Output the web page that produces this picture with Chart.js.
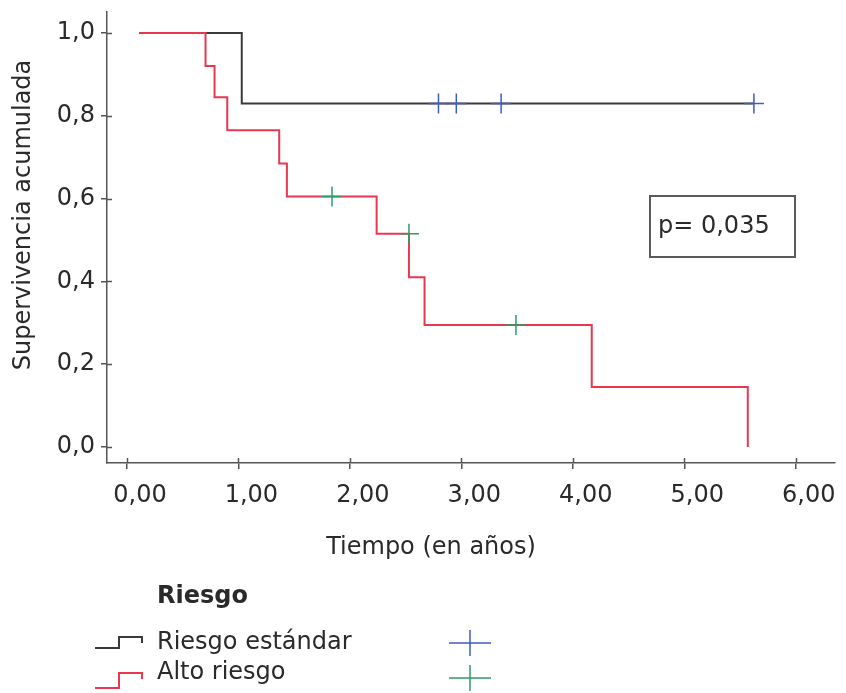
<!DOCTYPE html>
<html><head><meta charset="utf-8">
<script src="https://cdn.jsdelivr.net/npm/chart.js@4/dist/chart.umd.min.js"></script>
<style>html,body{margin:0;padding:0;background:#fff}</style>
</head><body>
<canvas id="c" width="846" height="693"></canvas>
<script>
// ---- data ----
const xTicks = [0, 1, 2, 3, 4, 5, 6];
const yTicks = [0, 0.2, 0.4, 0.6, 0.8, 1.0];
const standardTimes = [0.11, 1.03, 5.625];
const standardSurv  = [1.0, 0.83, 0.83];
const highTimes = [0.11, 0.705, 0.786, 0.90, 1.366, 1.435, 2.24, 2.53, 2.67, 4.17, 5.57];
const highSurv  = [1.0, 0.92, 0.845, 0.765, 0.685, 0.605, 0.515, 0.41, 0.295, 0.145, 0.0];
const standardCensorTimes = [2.795, 2.955, 3.357, 5.625];
const standardCensorSurv  = [0.83, 0.83, 0.83, 0.83];
const highCensorTimes = [1.84, 2.53, 3.49];
const highCensorSurv  = [0.605, 0.515, 0.295];
const groups = ['Riesgo estándar', 'Alto riesgo'];
const legendTitle = 'Riesgo';
const xTitle = 'Tiempo (en años)';
const yTitle = 'Supervivencia acumulada';
const pText = 'p= 0,035';

const FONT = 'DejaVu Sans';
const TXT = '#2a2a2a';
const AXIS = '#555555';
const BLACK = '#3a3a3a';
const RED = '#e8374f';
const BLUE = '#3d5cc4';
const GREEN = '#2e9c68';

const toPts = (xs, ys) => xs.map((x, i) => ({x: x, y: ys[i]}));

Chart.defaults.font.family = FONT;
Chart.defaults.color = TXT;

const extras = {
  id: 'extras',
  afterDraw(chart) {
    const ctx = chart.ctx;
    const xs = chart.scales.x, ys = chart.scales.y;
    ctx.save();
    // inner tick parts (ticks cross the axes)
    ctx.strokeStyle = AXIS; ctx.lineWidth = 1.5;
    yTicks.forEach(v => {
      const py = Math.round(ys.getPixelForValue(v)) + 0.5;
      ctx.beginPath(); ctx.moveTo(xs.left, py); ctx.lineTo(xs.left + 5, py); ctx.stroke();
    });
    xTicks.forEach(v => {
      const px = Math.round(xs.getPixelForValue(v)) + 0.5;
      ctx.beginPath(); ctx.moveTo(px, ys.bottom); ctx.lineTo(px, ys.bottom - 5); ctx.stroke();
    });
    // axis titles
    ctx.fillStyle = TXT;
    ctx.font = '24px "' + FONT + '"';
    ctx.textAlign = 'center'; ctx.textBaseline = 'middle';
    ctx.fillText(xTitle, 431, 548);
    ctx.save();
    ctx.translate(24, 215); ctx.rotate(-Math.PI / 2);
    ctx.fillText(yTitle, 0, 0);
    ctx.restore();
    // p-value box
    ctx.strokeStyle = '#5a5a5a'; ctx.lineWidth = 2;
    ctx.strokeRect(650, 196, 145, 61);
    ctx.textAlign = 'left';
    ctx.fillText(pText, 658, 227);
    // legend
    ctx.font = 'bold 24px "' + FONT + '"';
    ctx.fillText(legendTitle, 157, 597);
    ctx.font = '24px "' + FONT + '"';
    ctx.fillText(groups[0], 157, 643);
    ctx.fillText(groups[1], 157, 673);
    ctx.lineWidth = 2;
    const icon = (col, yb, yt) => {
      ctx.strokeStyle = col;
      ctx.beginPath();
      ctx.moveTo(95, yb); ctx.lineTo(119, yb); ctx.lineTo(119, yt);
      ctx.lineTo(142, yt); ctx.lineTo(142, yt + 6); ctx.stroke();
    };
    icon(BLACK, 648, 637);
    icon(RED, 688, 673);
    ctx.lineWidth = 1.5;
    const cross = (col, cx, cy) => {
      ctx.strokeStyle = col;
      ctx.beginPath();
      ctx.moveTo(cx - 21, cy); ctx.lineTo(cx + 21, cy);
      ctx.moveTo(cx, cy - 13); ctx.lineTo(cx, cy + 13); ctx.stroke();
    };
    cross(BLUE, 470, 643);
    cross(GREEN, 470, 678);
    ctx.restore();
  }
};

new Chart(document.getElementById('c'), {
  type: 'line',
  data: {
    datasets: [
      {label: groups[0] + ' censurado', data: toPts(standardCensorTimes, standardCensorSurv),
       showLine: false, pointStyle: 'cross', pointRadius: 10, pointBorderWidth: 1.5,
       pointBorderColor: BLUE, borderColor: BLUE},
      {label: groups[1] + ' censurado', data: toPts(highCensorTimes, highCensorSurv),
       showLine: false, pointStyle: 'cross', pointRadius: 10, pointBorderWidth: 1.5,
       pointBorderColor: GREEN, borderColor: GREEN},
      {label: groups[1], data: toPts(highTimes, highSurv), stepped: true,
       borderColor: RED, borderWidth: 2, pointRadius: 0, fill: false,
       borderJoinStyle: 'miter', borderCapStyle: 'butt'},
      {label: groups[0], data: toPts(standardTimes, standardSurv), stepped: true,
       borderColor: BLACK, borderWidth: 2, pointRadius: 0, fill: false,
       borderJoinStyle: 'miter', borderCapStyle: 'butt'}
    ]
  },
  options: {
    responsive: false,
    animation: false,
    layout: {padding: {left: 0, top: 12, right: 8, bottom: 0}},
    plugins: {legend: {display: false}, tooltip: {enabled: false}},
    scales: {
      x: {
        type: 'linear', min: -0.179, max: 6.348,
        afterBuildTicks: s => { s.ticks = xTicks.map(v => ({value: v})); },
        afterFit: s => { s.height = 693 - 463; s.paddingLeft = 0; s.paddingRight = 0; },
        border: {display: true, color: AXIS, width: 1.5},
        grid: {display: true, drawOnChartArea: false, drawTicks: true, tickLength: 6, color: AXIS, lineWidth: 1.5},
        ticks: {
          font: {size: 24}, color: TXT, padding: 12, labelOffset: 13, maxRotation: 0,
          callback: v => v.toFixed(2).replace('.', ',')
        }
      },
      y: {
        type: 'linear', min: -0.0386, max: 1.0507,
        afterBuildTicks: s => { s.ticks = yTicks.map(v => ({value: v})); },
        afterFit: s => { s.width = 107; s.paddingTop = 0; s.paddingBottom = 0; },
        border: {display: true, color: AXIS, width: 1.5},
        grid: {display: true, drawOnChartArea: false, drawTicks: true, tickLength: 6, color: AXIS, lineWidth: 1.5},
        ticks: {
          font: {size: 24}, color: TXT, padding: 6,
          callback: v => v.toFixed(1).replace('.', ',')
        }
      }
    }
  },
  plugins: [extras]
});
</script>
</body></html>
